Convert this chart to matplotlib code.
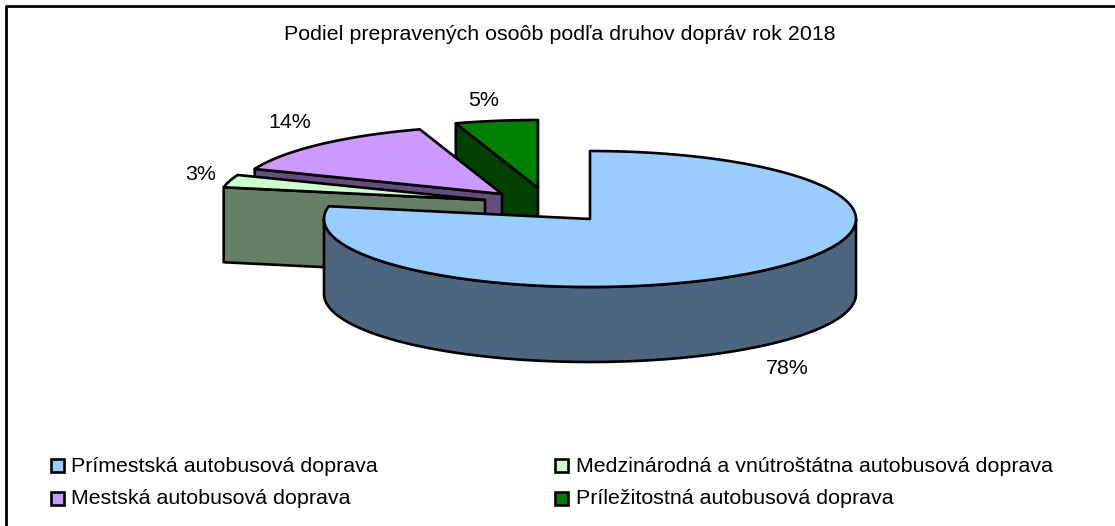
import numpy as np
import matplotlib
matplotlib.use("Agg")
import matplotlib.pyplot as plt
from matplotlib.patches import Polygon, Rectangle

plt.rcParams['font.family'] = ['Liberation Sans', 'DejaVu Sans']

title = "Podiel prepravených osoôb podľa druhov dopráv rok 2018"
labels = ["Prímestská autobusová doprava", "Medzinárodná a vnútroštátna autobusová doprava",
          "Mestská autobusová doprava", "Príležitostná autobusová doprava"]
values = [78, 3, 14, 5]
top_colors = ["#99CCFF", "#CCFFCC", "#CC99FF", "#008000"]
side_colors = ["#4D6680", "#668066", "#664D80", "#004000"]

# apex of every slice in picture pixels (the exploded look)
apex_x = [590, 485, 502, 538]
apex_y = [219, 200, 194, 188]
label_x = [787, 201, 290, 484]
label_y = [368.5, 175, 123, 101]
rx, ry = 266, 68
depth = 75
lw = 1.9
text_size = 15.4


def rim(cx, cy, a0, a1, n=200):
    # clockwise from 12 o'clock, degrees
    t = np.radians(np.linspace(a0, a1, n))
    return np.column_stack([cx + rx * np.sin(t), cy - ry * np.cos(t)])


def draw_slice(cx, cy, a0, a1, top, side, z):
    arc = rim(cx, cy, a0, a1)
    down = np.array([0, depth])
    # flat cut facing the viewer: the closing edge of slices behind the centre
    if a0 >= 180:
        start = arc[0]
        apex = np.array([cx, cy])
        cut = np.array([start, apex, apex + down, start + down])
        ax.add_patch(Polygon(cut, closed=True, fc=side, ec="black", lw=lw, zorder=z, joinstyle="round"))
    # outer wall, only the part in front
    f0, f1 = max(a0, 90), min(a1, 270)
    if f1 > f0:
        front = rim(cx, cy, f0, f1)
        wall = np.vstack([front, (front + down)[::-1]])
        ax.add_patch(Polygon(wall, closed=True, fc=side, ec="black", lw=lw, zorder=z, joinstyle="round"))
    pts = np.vstack([[cx, cy], arc])
    ax.add_patch(Polygon(pts, closed=True, fc=top, ec="black", lw=lw, zorder=z + 0.5, joinstyle="round"))


fig = plt.figure(figsize=(11.15, 5.26), dpi=100)
ax = fig.add_axes([0, 0, 1, 1])
ax.set_xlim(0, 1115)
ax.set_ylim(526, 0)
ax.axis("off")

# outer frame, only left and top are really black
ax.plot([5.5, 5.5], [526, 6], color="black", lw=2, solid_capstyle="butt")
ax.plot([4.5, 1115], [6, 6], color="black", lw=2, solid_capstyle="butt")

ax.text(560, 34.5, title, ha="center", va="center", fontsize=text_size)

edges = np.cumsum([0] + values) * 360 / sum(values)
# back slices first, the big one last
for i in range(len(values) - 1, -1, -1):
    draw_slice(apex_x[i], apex_y[i], edges[i], edges[i + 1], top_colors[i], side_colors[i], 2 + (len(values) - i))

for i, v in enumerate(values):
    ax.text(label_x[i], label_y[i], "%d%%" % v, ha="center", va="center", fontsize=text_size)

legend_x = [51, 555]
legend_y = [465, 498]
legend_gap = [20, 21.5]
for i, lab in enumerate(labels):
    x = legend_x[i % 2]
    y = legend_y[i // 2]
    ax.add_patch(Rectangle((x, y - 6.5), 13, 13, fc=top_colors[i], ec="black", lw=lw))
    ax.text(x + legend_gap[i % 2], y + 1, lab, ha="left", va="center", fontsize=text_size)

fig.savefig("out.png", dpi=100)
